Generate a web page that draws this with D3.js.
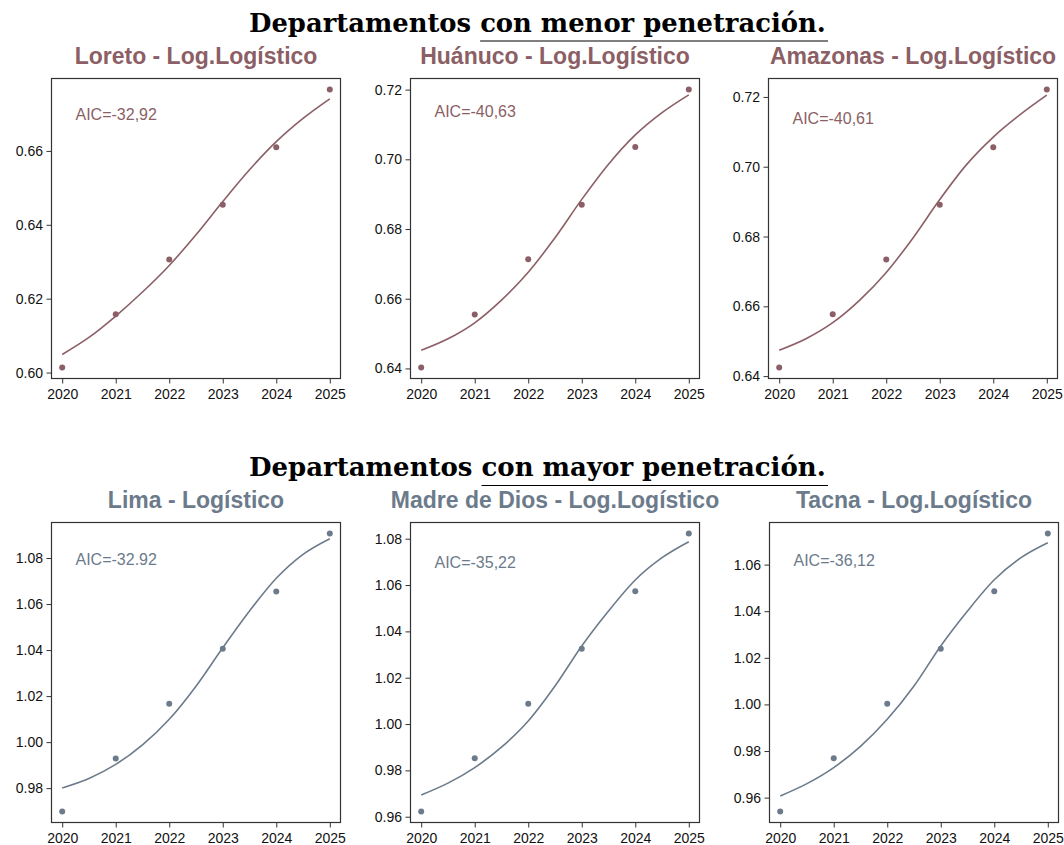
<!doctype html>
<html lang="es">
<head>
<meta charset="utf-8">
<title>Departamentos - penetración</title>
<style>
  body { margin: 0; background: #fff; }
  svg text { font-family: "Liberation Sans", Arial, sans-serif; }
</style>
</head>
<body>
<div id="chart"></div>
<script src="https://d3js.org/d3.v7.min.js"></script>
<script>
// ---- datos ----
var years = [2020, 2021, 2022, 2023, 2024, 2025];
var fitYears = [2020, 2020.5, 2021, 2021.5, 2022, 2022.5, 2023, 2023.5, 2024, 2024.5, 2025];

var departamentos = ["Loreto", "Huánuco", "Amazonas", "Lima", "Madre de Dios", "Tacna"];
var modelos = ["Log.Logístico", "Log.Logístico", "Log.Logístico", "Logístico", "Log.Logístico", "Log.Logístico"];
var aic = ["AIC=-32,92", "AIC=-40,63", "AIC=-40,61", "AIC=-32.92", "AIC=-35,22", "AIC=-36,12"];

var loretoObs   = [0.6014, 0.6158, 0.6306, 0.6454, 0.6610, 0.6766];
var huanucoObs  = [0.6403, 0.6555, 0.6713, 0.6870, 0.7035, 0.7200];
var amazonasObs = [0.6425, 0.6577, 0.6734, 0.6891, 0.7056, 0.7221];
var limaObs     = [0.9699, 0.9929, 1.0167, 1.0406, 1.0655, 1.0906];
var madreObs    = [0.9623, 0.9852, 1.0088, 1.0325, 1.0573, 1.0822];
var tacnaObs    = [0.9541, 0.9769, 1.0003, 1.0239, 1.0486, 1.0733];

var loretoFit   = [0.6049, 0.6095, 0.6153, 0.6218, 0.6290, 0.6373, 0.6463, 0.6549, 0.6625, 0.6688, 0.6741];
var huanucoFit  = [0.6452, 0.6485, 0.6531, 0.6596, 0.6676, 0.6775, 0.6885, 0.6986, 0.7070, 0.7134, 0.7185];
var amazonasFit = [0.6474, 0.6507, 0.6553, 0.6617, 0.6697, 0.6796, 0.6906, 0.7006, 0.7085, 0.7149, 0.7205];
var limaFit     = [0.9801, 0.9842, 0.9903, 0.9988, 1.0099, 1.0243, 1.0410, 1.0570, 1.0712, 1.0816, 1.0884];
var madreFit    = [0.9694, 0.9745, 0.9812, 0.9900, 1.0013, 1.0164, 1.0337, 1.0488, 1.0622, 1.0718, 1.0787];
var tacnaFit    = [0.9607, 0.9660, 0.9729, 0.9820, 0.9936, 1.0079, 1.0251, 1.0401, 1.0535, 1.0630, 1.0694];

var loretoTicks   = [0.60, 0.62, 0.64, 0.66];
var huanucoTicks  = [0.64, 0.66, 0.68, 0.70, 0.72];
var amazonasTicks = [0.64, 0.66, 0.68, 0.70, 0.72];
var limaTicks     = [0.98, 1.00, 1.02, 1.04, 1.06, 1.08];
var madreTicks    = [0.96, 0.98, 1.00, 1.02, 1.04, 1.06, 1.08];
var tacnaTicks    = [0.96, 0.98, 1.00, 1.02, 1.04, 1.06];

var observados = [loretoObs, huanucoObs, amazonasObs, limaObs, madreObs, tacnaObs];
var ajustados = [loretoFit, huanucoFit, amazonasFit, limaFit, madreFit, tacnaFit];
var yTicks = [loretoTicks, huanucoTicks, amazonasTicks, limaTicks, madreTicks, tacnaTicks];

var titulos = ["Departamentos con menor penetración.", "Departamentos con mayor penetración."];

// ---- diseño ----
var width = 1064, height = 845;
var colores = ["#8b5f65", "#6c7b8b"];
var panelLeft = [[51.5, 410.5, 768.5], [51.5, 410.5, 769.5]];
var panelTop = [78.5, 522.5];
var pw = 289, ph = 300;
var aicDy = [41.5, 38.5, 45.5, 42.5, 45.5, 43.5];
var titleBase = [31.5, 475.5];
var ulY = [41, 485.5];

var svg = d3.select("#chart").append("svg")
    .attr("width", width)
    .attr("height", height);

// titulos generales
titulos.forEach(function(t, r) {
    var txt = svg.append("text")
        .attr("x", 249)
        .attr("y", titleBase[r])
        .style("font-family", "'DejaVu Serif', serif")
        .style("font-weight", "bold")
        .style("font-size", "25px")
        .attr("fill", "#000")
        .text(t);
    var w = txt.node().getComputedTextLength();
    var fs = 25 * 577 / w;
    txt.style("font-size", fs + "px");
    var start = 249 + txt.node().getSubStringLength(0, "Departamentos ".length);
    svg.append("line")
        .attr("x1", start).attr("x2", 828)
        .attr("y1", ulY[r]).attr("y2", ulY[r])
        .attr("stroke", "#000")
        .attr("stroke-width", 1.2);
});

departamentos.forEach(function(dep, i) {
    var row = Math.floor(i / 3), col = i % 3;
    var color = colores[row];
    var left = panelLeft[row][col], top = panelTop[row];

    var allVals = observados[i].concat(ajustados[i]);
    var ext = d3.extent(allVals);
    var pad = (ext[1] - ext[0]) * 0.04;

    var x = d3.scaleLinear().domain([2019.8, 2025.2]).range([left, left + pw]);
    var y = d3.scaleLinear().domain([ext[0] - pad, ext[1] + pad]).range([top + ph, top]);

    var g = svg.append("g");

    // titulo del panel
    g.append("text")
        .attr("x", left + pw / 2)
        .attr("y", top - 14.5)
        .attr("text-anchor", "middle")
        .style("font-weight", "bold")
        .style("font-size", "23px")
        .attr("fill", color)
        .text(dep + " - " + modelos[i]);

    // ejes
    var xAxis = d3.axisBottom(x).tickValues(years).tickFormat(d3.format("d")).tickSize(5).tickSizeOuter(0);
    var yAxis = d3.axisLeft(y).tickValues(yTicks[i]).tickFormat(d3.format(".2f")).tickSize(5).tickSizeOuter(0);

    var gx = g.append("g").attr("transform", "translate(0," + (top + ph) + ")").call(xAxis);
    var gy = g.append("g").attr("transform", "translate(" + left + ",0)").call(yAxis);
    [gx, gy].forEach(function(a) {
        a.select(".domain").remove();
        a.selectAll(".tick line").attr("stroke", "#333");
        a.selectAll(".tick text")
            .attr("fill", "#111")
            .style("font-size", "14px")
            .style("font-family", "'Liberation Sans', Arial, sans-serif");
    });
    gx.selectAll(".tick text").attr("dy", "0").attr("y", 20.5);
    gy.selectAll(".tick text").attr("x", -8.5);

    // marco
    g.append("rect")
        .attr("x", left).attr("y", top)
        .attr("width", pw).attr("height", ph)
        .attr("fill", "none")
        .attr("stroke", "#333")
        .attr("stroke-width", 1.2);

    // curva ajustada
    var line = d3.line()
        .x(function(d, k) { return x(fitYears[k]); })
        .y(function(d) { return y(d); })
        .curve(d3.curveMonotoneX);

    g.append("path")
        .datum(ajustados[i])
        .attr("d", line)
        .attr("fill", "none")
        .attr("stroke", color)
        .attr("stroke-width", 1.6);

    // puntos observados
    g.selectAll("circle.obs")
        .data(observados[i])
        .enter().append("circle")
        .attr("class", "obs")
        .attr("cx", function(d, k) { return x(years[k]); })
        .attr("cy", function(d) { return y(d); })
        .attr("r", 3)
        .attr("fill", color);

    // AIC
    g.append("text")
        .attr("x", left + 24)
        .attr("y", top + aicDy[i])
        .style("font-size", "16px")
        .attr("fill", color)
        .text(aic[i]);
});
</script>
</body>
</html>
